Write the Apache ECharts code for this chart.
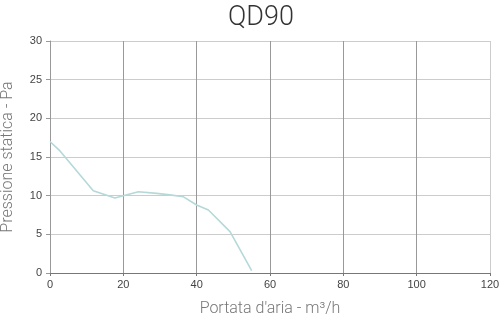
<!DOCTYPE html>
<html><head><meta charset="utf-8">
<script src="https://cdn.jsdelivr.net/npm/echarts@6/dist/echarts.min.js"></script>
<style>html,body{margin:0;padding:0;background:#fff}#c{width:500px;height:318px}</style>
</head><body><div id="c"></div>
<script>
const flow = [0, 2.5, 11.8, 17.7, 20, 24.1, 29.1, 32.7, 36.4, 40, 43.2, 49.1, 55];
const pressure = [17.0, 15.9, 10.65, 9.7, 10.0, 10.5, 10.3, 10.1, 9.85, 8.8, 8.15, 5.35, 0.3];
const xTicks = [0, 20, 40, 60, 80, 100, 120];
const yTicks = [0, 5, 10, 15, 20, 25, 30];
const chart = echarts.init(document.getElementById('c'));
chart.setOption({
  animation: false,
  title: {text: 'QD90', left: 223, top: 0, itemGap: 0,
    textStyle: {fontFamily: 'Roboto', fontWeight: 300, fontSize: 27, color: '#333'}},
  grid: {left: 50, right: 10, top: 41, bottom: 45, containLabel: false, outerBoundsMode: 'none'},
  xAxis: {type: 'value', min: xTicks[0], max: xTicks[xTicks.length-1], interval: 20,
    name: "Portata d'aria - m³/h", nameLocation: 'middle', nameGap: 28,
    nameTextStyle: {fontFamily: 'Roboto', fontWeight: 300, fontSize: 16, color: '#777'},
    axisLine: {lineStyle: {color: '#777'}},
    axisTick: {show: true, length: 3, lineStyle: {color: '#777'}},
    axisLabel: {color: '#444', fontSize: 11, fontFamily: 'Liberation Sans', margin: 6},
    splitLine: {show: true, lineStyle: {color: ['#999','#999','#999','#999','#999','#999','#ccc'], width: 1}}},
  yAxis: {type: 'value', min: yTicks[0], max: yTicks[yTicks.length-1], interval: 5,
    name: 'Pressione statica - Pa', nameLocation: 'middle', nameGap: 34,
    nameTextStyle: {fontFamily: 'Roboto', fontWeight: 300, fontSize: 16, color: '#777'},
    axisLine: {show: true, lineStyle: {color: '#999'}},
    axisTick: {show: true, length: 4, lineStyle: {color: '#999'}},
    axisLabel: {color: '#444', fontSize: 11, fontFamily: 'Liberation Sans', margin: 8},
    splitLine: {show: true, lineStyle: {color: '#ccc', width: 1}}},
  series: [{type: 'line', data: flow.map((x, i) => [x, pressure[i]]), showSymbol: false,
    lineStyle: {color: '#b5d9d8', width: 1.6}}]
});
</script></body></html>
